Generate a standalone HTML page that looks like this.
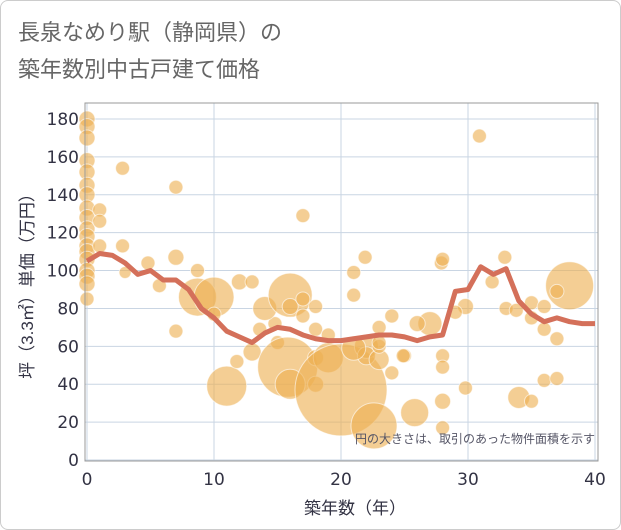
<!DOCTYPE html>
<html><head><meta charset="utf-8"><style>
body{margin:0;background:#fff;font-family:"Liberation Sans","Noto Sans CJK JP",sans-serif}
#wrap{position:relative;width:619px;height:528px;border:1px solid #ccc;border-radius:8px;overflow:hidden}
.tick{font-family:"DejaVu Sans","Liberation Sans",sans-serif}
</style></head><body>
<div id="wrap">
<svg id="chart" width="621" height="530" style="position:absolute;left:-1px;top:-1px">
<text x="18" y="40" font-size="22" fill="#666">長泉なめり駅（静岡県）の</text>
<text x="18" y="77" font-size="22" fill="#666">築年数別中古戸建て価格</text>
<g id="grid"></g><g id="bubbles"></g><g id="line"></g><g id="axes"></g>
<text x="595" y="443" font-size="12" fill="#556" text-anchor="end">円の大きさは、取引のあった物件面積を示す</text>
<text x="355" y="514" font-size="17" fill="#334" text-anchor="middle">築年数（年）</text>
<text transform="translate(33,282) rotate(-90)" font-size="17" fill="#334" text-anchor="middle">坪（3.3㎡）単価（万円）</text>
</svg></div>
<script>
const xTicks=[0,10,20,30,40];
const yTicks=[0,20,40,60,80,100,120,140,160,180];
const lineYears=[0,1,2,3,4,5,6,7,8,9,10,11,12,13,14,15,16,17,18,19,20,21,22,23,24,25,26,27,28,29,30,31,32,33,34,35,36,37,38,39,40];
const lineValues=[105,109,108,104,98,100,95,95,90,80,75,68,65,62,67,70,69,66,64,63,63,64,65,66,66,65,63,65,66,89,90,102,98,101,84,77,73,75,73,72,72];
const bubbleYears=[0,0,0,0,0,0,0,0,0,0,0,0,0,0,0,0,0,0,1,1,1,2.8,2.8,3,4.8,5.7,7,7,7,8.7,8.7,10,10,11,12,13,13,11.8,13.6,14.8,15,14,16,16,17,17,18,15.8,16,17,18,19,18,19,18,20,22.6,21,21.9,21,22,22,23,23,24,25,27,26,27.9,28,29.8,29,29.8,30.9,31.9,32.9,33,33.8,35,36,35,36,37,38,37,28,28,34,35,36,37,28,25.8,28,24,24.9,23,21,23];
const bubbleValues=[180,176,170,158,152,145,140,133,128,122,118,113,110,106,100,97,93,85,132,126,113,154,113,99,104,92,144,107,68,100,86,86,77,39,94,94,57,52,69,72,62,80,87,81,85,76,81,49,40,129,69,66,54,54,40,37,18,99,107,87,60,55,53,60,76,55,72,72,104,106,81,78,38,171,94,107,80,79,83,81,75,69,64,92,89,55,49,33,31,42,43,31,25,17,46,55,70,59,62];
const bubbleRadii=[8,8,8,8,8,8,8,8,8,8,8,8,8,8,8,8,8,7,7,7,7,7,7,6,7,7,7,8,7,7,19,20,7,20,8,7,9,7,7,7,7,12,22,8,7,7,7,30,15,7,7,7,8,15,8,46,23,7,7,7,12,9,10,7,7,7,12,8,7,7,8,7,7,7,7,7,7,7,7,7,7,7,7,24,7,7,7,11,7,7,7,8,14,7,7,7,7,12,7];
const X0=87,X1=595,Y0=460,Y1=119;
const sx=v=>X0+(v-0)/(40-0)*(X1-X0);
const sy=v=>Y0-(v-0)/(180-0)*(Y0-Y1);
const NS="http://www.w3.org/2000/svg";
function mk(t,a,p){const e=document.createElementNS(NS,t);for(const k in a)e.setAttribute(k,a[k]);p.appendChild(e);return e;}
const grid=document.getElementById('grid'),axes=document.getElementById('axes');
xTicks.forEach(t=>{const l=mk('line',{x1:sx(t),x2:sx(t),y1:103,y2:461,stroke:'#c9d5e3','stroke-width':1},grid);


const tx=mk('text',{x:sx(t),y:485,'font-size':17,fill:'#334','text-anchor':'middle','class':'tick'},axes);tx.textContent=t;

});
yTicks.forEach(t=>{const l=mk('line',{x1:85,x2:598,y1:sy(t),y2:sy(t),stroke:'#c9d5e3','stroke-width':1},grid);


const tx=mk('text',{x:79,y:sy(t)+6,'font-size':17,fill:'#334','text-anchor':'end','class':'tick'},axes);tx.textContent=t;

});
const fr=mk('rect',{x:85,y:103,width:513,height:358,fill:'none',stroke:'#999','stroke-width':1},axes);


const bg=document.getElementById('bubbles');
bubbleYears.forEach((yr,i)=>{const c=mk('circle',{cx:sx(yr),cy:sy(bubbleValues[i]),r:bubbleRadii[i],fill:'rgba(238,176,82,0.62)',stroke:'rgba(255,255,255,0.6)','stroke-width':1},bg);

});
const pts=lineYears.map((y,i)=>sx(y)+','+sy(lineValues[i])).join(' ');
const pl=mk('polyline',{points:pts,fill:'none',stroke:'#d4705a','stroke-width':5,'stroke-linejoin':'round'},document.getElementById('line'));


</script>
</body></html>
